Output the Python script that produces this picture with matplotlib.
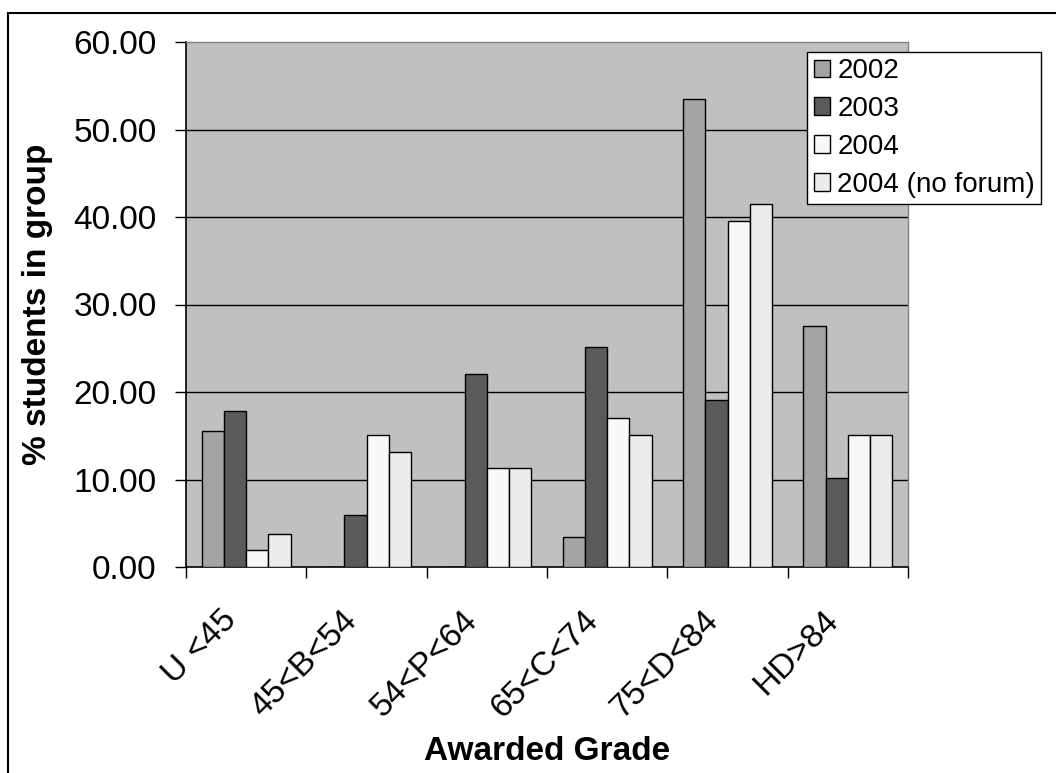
import matplotlib
matplotlib.use("Agg")
import matplotlib.pyplot as plt
import numpy as np
from matplotlib.patches import Rectangle
from matplotlib.transforms import ScaledTranslation
from matplotlib.ticker import FormatStrFormatter, FixedLocator

# Grade bands and the share of students per band for each cohort
categories = ["U <45", "45<B<54", "54<P<64", "65<C<74", "75<D<84", "HD>84"]
series_names = ["2002", "2003", "2004", "2004 (no forum)"]
pct_2002 = [15.6, 0.0, 0.0, 3.4, 53.5, 27.6]
pct_2003 = [17.8, 5.9, 22.1, 25.1, 19.1, 10.2]
pct_2004 = [1.9, 15.1, 11.3, 17.0, 39.6, 15.1]
pct_2004_nf = [3.8, 13.2, 11.3, 15.1, 41.5, 15.1]
yticks = [0, 10, 20, 30, 40, 50, 60]

series = [pct_2002, pct_2003, pct_2004, pct_2004_nf]
colors = ["#a4a4a4", "#5a5a5a", "#f8f8f8", "#ececec"]

plt.rcParams["font.family"] = ["Liberation Sans", "DejaVu Sans"]

W, H = 1056, 773
fig = plt.figure(figsize=(W / 100, H / 100), dpi=100)
ax = fig.add_axes([186 / W, 1 - 567 / H, 722 / W, 525 / H])
ax.set_facecolor("#c0c0c0")

x = np.arange(len(categories))
bw = 0.185
for k, (vals, name, col) in enumerate(zip(series, series_names, colors)):
    offs = (k - 1.5) * bw
    ax.bar(x + offs, vals, width=bw, color=col, edgecolor="black",
           linewidth=1.0, label=name, zorder=3)

ax.set_xlim(-0.5, len(categories) - 0.5)
ax.set_ylim(0, 60)
ax.set_yticks(yticks)
ax.yaxis.set_major_formatter(FormatStrFormatter("%.2f"))
for v in yticks[1:-1]:
    ax.axhline(v, color="black", linewidth=1.0, zorder=1)

# category labels sit on major ticks, tick marks sit between categories
ax.set_xticks(x)
ax.set_xticklabels(categories, rotation=45, ha="right", va="center",
                   rotation_mode="anchor")
ax.xaxis.set_minor_locator(FixedLocator(np.arange(-0.5, len(categories), 1.0)))
ax.tick_params(axis="x", which="major", length=0, pad=35, labelsize=24)
ax.tick_params(axis="x", which="minor", length=8, width=1, direction="out",
               color="black")
ax.tick_params(axis="y", length=8, width=1, direction="out", pad=13,
               labelsize=24)
shift = ScaledTranslation(-14 / 100, 0, fig.dpi_scale_trans)
for lab in ax.get_xticklabels():
    lab.set_transform(lab.get_transform() + shift)

for side in ("left", "bottom"):
    ax.spines[side].set_color("black")
    ax.spines[side].set_linewidth(1.2)
for side in ("top", "right"):
    ax.spines[side].set_color("#808080")
    ax.spines[side].set_linewidth(1.0)

ax.set_ylabel("% students in group", fontsize=24, fontweight="bold")
ax.yaxis.label.set_va("center")
ax.yaxis.set_label_coords(-0.206, 0.5)
ax.set_xlabel("Awarded Grade", fontsize=24, fontweight="bold", va="center")
ax.xaxis.set_label_coords(0.5, -0.352)

leg = ax.legend(loc="upper right", bbox_to_anchor=(1041 / W, 1 - 52 / H),
                bbox_transform=fig.transFigure, borderaxespad=0,
                fontsize=20, fancybox=False, framealpha=1, edgecolor="black",
                handlelength=0.6, handleheight=0.6, handletextpad=0.25,
                labelspacing=0.43, borderpad=0.22)
leg.get_frame().set_linewidth(1.0)
leg.set_zorder(5)

# outer chart frame
fig.add_artist(Rectangle((8 / W, -0.02), 1.1, 1 - 13 / H + 0.02,
                         transform=fig.transFigure, fill=False,
                         edgecolor="black", linewidth=1.5, clip_on=False))

fig.savefig("out.png", dpi=100, facecolor="white")
